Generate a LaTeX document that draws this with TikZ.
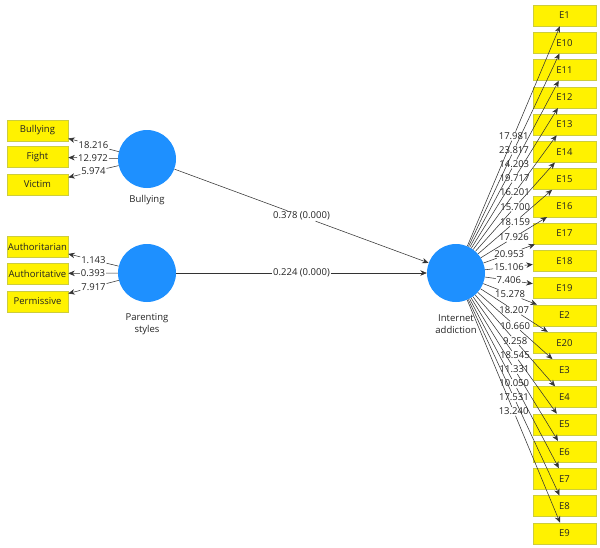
\documentclass[tikz,border=0pt]{standalone}
\usepackage{fontspec}
\setmainfont{Open Sans}
\usetikzlibrary{arrows.meta,calc}
\definecolor{lvblue}{RGB}{30,144,255}
\definecolor{boxedge}{RGB}{205,205,60}
\definecolor{txt}{RGB}{35,35,35}
\begin{document}
\begin{tikzpicture}[x=1pt,y=-1pt,
  font=\fontsize{9.5}{12.5}\selectfont,
  ind/.style={draw=boxedge, fill=yellow, minimum width=61pt, minimum height=21pt, inner sep=0pt, line width=0.5pt, text=txt},
  indr/.style={ind, minimum width=63pt},
  lv/.style={circle, fill=lvblue, minimum size=58pt, inner sep=0pt},
  lvname/.style={align=center, text=txt},
  ln/.style={draw=black!80, line width=0.55pt},
  con/.style={ln, -{Stealth[length=6.5pt,width=5.5pt]}},
  lbl/.style={inner sep=0.8pt, text=txt},
]
\useasboundingbox (0,0) rectangle (600,547);

% latent variables
\node[lv] (BU) at (147,159) {};
\node[lvname] (BUl) at (147,200) {Bullying};
\node[lv] (PS) at (147,273) {};
\node[lvname] (PSl) at (147,324) {Parenting\\styles};
\node[lv] (IA) at (456,273) {};
\node[lvname] (IAl) at (456,324) {Internet\\addiction};

% left indicators
\node[ind] (b1) at (37.5,130.5) {Bullying};
\node[ind] (b2) at (37.5,157) {Fight};
\node[ind] (b3) at (37.5,184.5) {Victim};
\node[ind] (p1) at (37.5,246.5) {Authoritarian};
\node[ind] (p2) at (37.5,273.5) {Authoritative};
\node[ind] (p3) at (37.5,301.5) {Permissive};

% right indicators
\foreach \n [count=\i from 0] in {E1,E10,E11,E12,E13,E14,E15,E16,E17,E18,E19,E2,E20,E3,E4,E5,E6,E7,E8,E9}
  \node[indr] (\n) at (564.5,{15.5+27.26*\i}) {\n};

% outer loadings (left)
\foreach \s/\t/\v in {BU/b1/18.216, BU/b2/12.972, BU/b3/5.974, PS/p1/1.143, PS/p2/0.393, PS/p3/7.917} {
  \path (\s) -- coordinate[pos=0.5] (m\t) (\t);
  \node[lbl] (l\t) at (m\t) {\v};
  \draw[ln] (\s) -- (l\t);
  \draw[con] (l\t) -- (\t);
}

% outer loadings (right)
\foreach \t/\v in {E1/17.981, E10/23.817, E11/14.203, E12/19.717, E13/16.201, E14/15.700, E15/18.159, E16/17.926, E17/20.953, E18/15.106, E19/7.406, E2/15.278, E20/18.207, E3/10.660, E4/9.258, E5/18.545, E6/11.331, E7/10.050, E8/17.531, E9/13.240} {
  \path (IA) -- coordinate[pos=0.5] (m\t) (\t);
  \node[lbl] (l\t) at (m\t) {\v};
  \draw[ln] (IA) -- (l\t);
  \draw[con] (l\t) -- (\t);
}

% structural paths
\path (BU) -- coordinate[pos=0.5] (mBU) (IA);
\node[lbl] (lBU) at (mBU) {0.378 (0.000)};
\draw[ln] (BU) -- (lBU);
\draw[con] (lBU) -- (IA);
\path (PS) -- coordinate[pos=0.5] (mPS) (IA);
\node[lbl] (lPS) at (mPS) {0.224 (0.000)};
\draw[ln] (PS) -- (lPS);
\draw[con] (lPS) -- (IA);
\end{tikzpicture}
\end{document}
